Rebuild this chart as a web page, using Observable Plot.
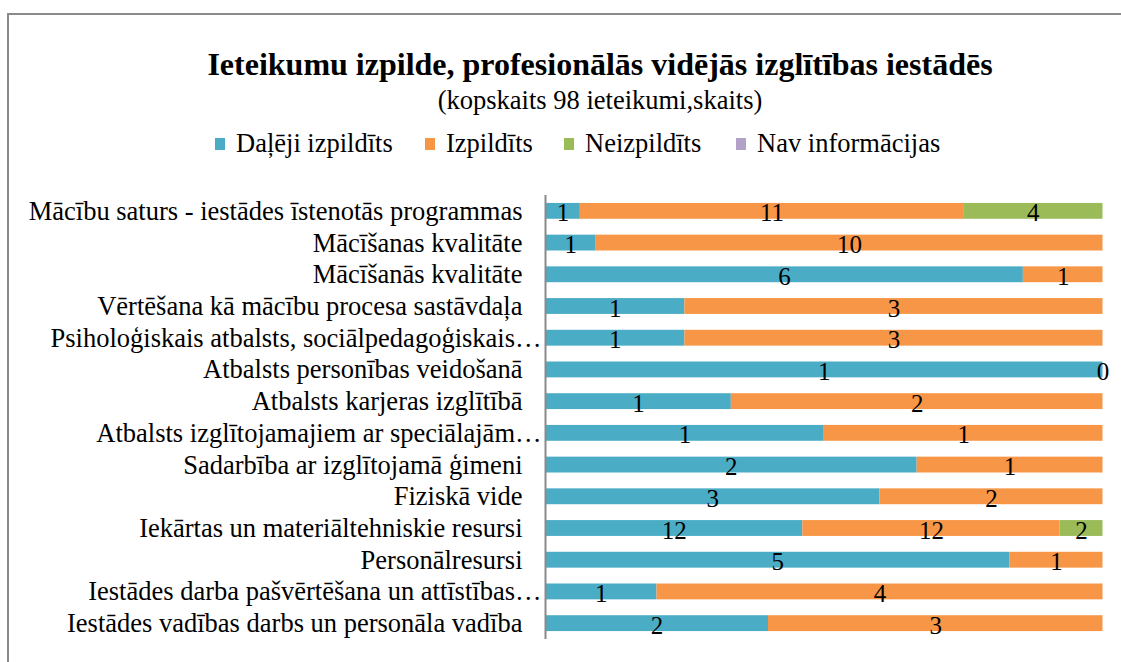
<!DOCTYPE html>
<html>
<head>
<meta charset="utf-8">
<script src="https://cdn.jsdelivr.net/npm/d3@7"></script>
<script src="https://cdn.jsdelivr.net/npm/@observablehq/plot@0.6"></script>
<style>
  html, body { margin: 0; padding: 0; background: #fff; }
  body { width: 1121px; height: 662px; overflow: hidden; position: relative; font-family: "Liberation Serif", "Times New Roman", serif; color: #000; }
  #frame { position: absolute; left: 7px; top: 13px; width: 1200px; height: 700px; border-left: 2px solid #8a8a8a; border-top: 2px solid #8a8a8a; }
  #title { position: absolute; left: 0; width: 1200px; top: 46px; line-height: 36px; text-align: center; font-weight: bold; font-size: 32px; }
  #subtitle { position: absolute; left: 0; width: 1200px; top: 85px; line-height: 30px; text-align: center; font-size: 26.5px; }
  .leg { position: absolute; top: 128px; line-height: 30px; font-size: 26.5px; white-space: nowrap; }
  .leg .sw { position: absolute; left: 0; top: 10px; width: 10px; height: 12px; }
  .leg .lt { position: absolute; left: 21px; top: 0; }
  #chart { position: absolute; left: 0; top: 170px; }
</style>
</head>
<body>
<div id="frame"></div>
<div id="title">Ieteikumu izpilde, profesionālās vidējās izglītības iestādēs</div>
<div id="subtitle">(kopskaits 98 ieteikumi,skaits)</div>
<div id="legend"></div>
<div id="chart"></div>
<script>
const categories = [
  "Mācību saturs - iestādes īstenotās programmas",
  "Mācīšanas kvalitāte",
  "Mācīšanās kvalitāte",
  "Vērtēšana kā mācību procesa sastāvdaļa",
  "Psiholoģiskais atbalsts, sociālpedagoģiskais…",
  "Atbalsts personības veidošanā",
  "Atbalsts karjeras izglītībā",
  "Atbalsts izglītojamajiem ar speciālajām…",
  "Sadarbība ar izglītojamā ģimeni",
  "Fiziskā vide",
  "Iekārtas un materiāltehniskie resursi",
  "Personālresursi",
  "Iestādes darba pašvērtēšana un attīstības…",
  "Iestādes vadības darbs un personāla vadība"
];
const truncatedLabels = [
  "Psiholoģiskais atbalsts, sociālpedagoģiskais…",
  "Atbalsts izglītojamajiem ar speciālajām…",
  "Iestādes darba pašvērtēšana un attīstības…"
];
const seriesNames = ["Daļēji izpildīts", "Izpildīts", "Neizpildīts", "Nav informācijas"];
const seriesColors = ["#4BACC6", "#F79646", "#9BBB59", "#B3A2C7"];

const dalejiIzpildits = [1, 1, 6, 1, 1, 1, 1, 1, 2, 3, 12, 5, 1, 2];
const izpildits       = [11, 10, 1, 3, 3, 0, 2, 1, 1, 2, 12, 1, 4, 3];
const neizpildits     = [4, null, null, null, null, null, null, null, null, null, 2, null, null, null];
const navInformacijas = [null, null, null, null, null, null, null, null, null, null, null, null, null, null];

const seriesValues = [dalejiIzpildits, izpildits, neizpildits, navInformacijas];
const rows = [];
seriesValues.forEach((vals, si) => vals.forEach((v, ci) => {
  if (v != null) rows.push({category: categories[ci], series: seriesNames[si], value: v});
}));

// legend
const legendLefts = [215, 425, 564, 736];
const legend = document.getElementById("legend");
seriesNames.forEach((name, i) => {
  const d = document.createElement("div");
  d.className = "leg";
  d.style.left = legendLefts[i] + "px";
  d.innerHTML = `<span class="sw" style="background:${seriesColors[i]}"></span><span class="lt">${name}</span>`;
  legend.appendChild(d);
});

const fullLabels = categories.filter(c => !truncatedLabels.includes(c));

const chart = Plot.plot({
  width: 1121,
  height: 490,
  marginLeft: 545,
  marginRight: 18.5,
  marginTop: 25,
  marginBottom: 21,
  style: {fontFamily: "'Liberation Serif', 'Times New Roman', serif", fontSize: "26.5px", color: "#000", background: "transparent"},
  x: {domain: [0, 1], axis: null},
  y: {domain: categories, paddingInner: 0.5, paddingOuter: 0.25, round: false, axis: null},
  color: {domain: seriesNames, range: seriesColors},
  marks: [
    Plot.barX(rows, Plot.stackX({x: "value", y: "category", fill: "series", offset: "normalize", order: seriesNames})),
    Plot.text(rows, Plot.stackX({x: "value", y: "category", z: "series", text: d => String(d.value), offset: "normalize", order: seriesNames, fontSize: 25, dy: 2, fill: "#000"})),
    Plot.ruleX([0], {stroke: "#8a8a8a", strokeWidth: 2}),
    Plot.axisY(fullLabels, {tickSize: 0, tickPadding: 23, fontSize: 26.5, fill: "#000", label: null}),
    Plot.axisY(truncatedLabels, {tickSize: 0, tickPadding: 4, fontSize: 26.5, fill: "#000", label: null})
  ]
});
document.getElementById("chart").appendChild(chart);
</script>
</body>
</html>
